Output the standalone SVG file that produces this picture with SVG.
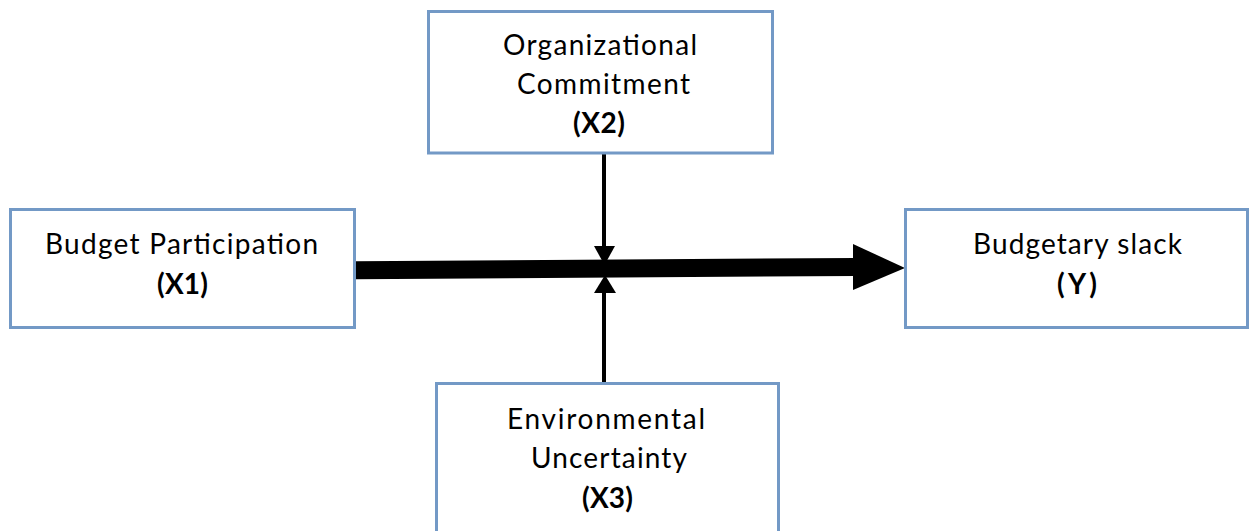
<svg xmlns="http://www.w3.org/2000/svg" width="1249" height="531" viewBox="0 0 1249 531">
  <style>
    .box { fill: #ffffff; stroke: #7399c6; stroke-width: 3; }
    .t { font-family: Lato, "Liberation Sans", sans-serif; font-size: 28px; fill: #000000; }
    .b { font-weight: bold; }
    .ln { stroke: #000000; fill: none; }
    .hd { fill: #000000; stroke: none; }
  </style>
  <rect width="1249" height="531" fill="#ffffff"/>
  <g id="connectors">
    <line class="ln" x1="355" y1="270.2" x2="856" y2="267" stroke-width="18"/>
    <polygon class="hd" points="853,244 905,268 853,290"/>
    <line class="ln" x1="604" y1="153" x2="604" y2="248" stroke-width="4"/>
    <polygon class="hd" points="594,246 615,246 604.5,265"/>
    <line class="ln" x1="604" y1="383" x2="604" y2="291" stroke-width="4"/>
    <polygon class="hd" points="594,293 616,293 605,275"/>
  </g>
  <g id="node-x1">
    <rect class="box" x="10.5" y="209.5" width="344" height="118"/>
    <text class="t" x="45" y="254" textLength="273" lengthAdjust="spacing">Budget Participation</text>
    <text class="t b" x="157" y="294" textLength="51" lengthAdjust="spacing">(X1)</text>
  </g>
  <g id="node-y">
    <rect class="box" x="905.5" y="209.5" width="342" height="118"/>
    <text class="t" x="973" y="254" textLength="209" lengthAdjust="spacing">Budgetary slack</text>
    <text class="t b" x="1057" y="294" textLength="40" lengthAdjust="spacing">(Y)</text>
  </g>
  <g id="node-x2">
    <rect class="box" x="428.5" y="11.5" width="344" height="141.5"/>
    <text class="t" x="503" y="55" textLength="194" lengthAdjust="spacing">Organizational</text>
    <text class="t" x="517" y="94" textLength="173" lengthAdjust="spacing">Commitment</text>
    <text class="t b" x="573" y="133" textLength="52" lengthAdjust="spacing">(X2)</text>
  </g>
  <g id="node-x3">
    <rect class="box" x="436.5" y="383.5" width="342" height="200"/>
    <text class="t" x="507" y="429" textLength="198" lengthAdjust="spacing">Environmental</text>
    <text class="t" x="531" y="468" textLength="156" lengthAdjust="spacing">Uncertainty</text>
    <text class="t b" x="582" y="508" textLength="51" lengthAdjust="spacing">(X3)</text>
  </g>
</svg>
